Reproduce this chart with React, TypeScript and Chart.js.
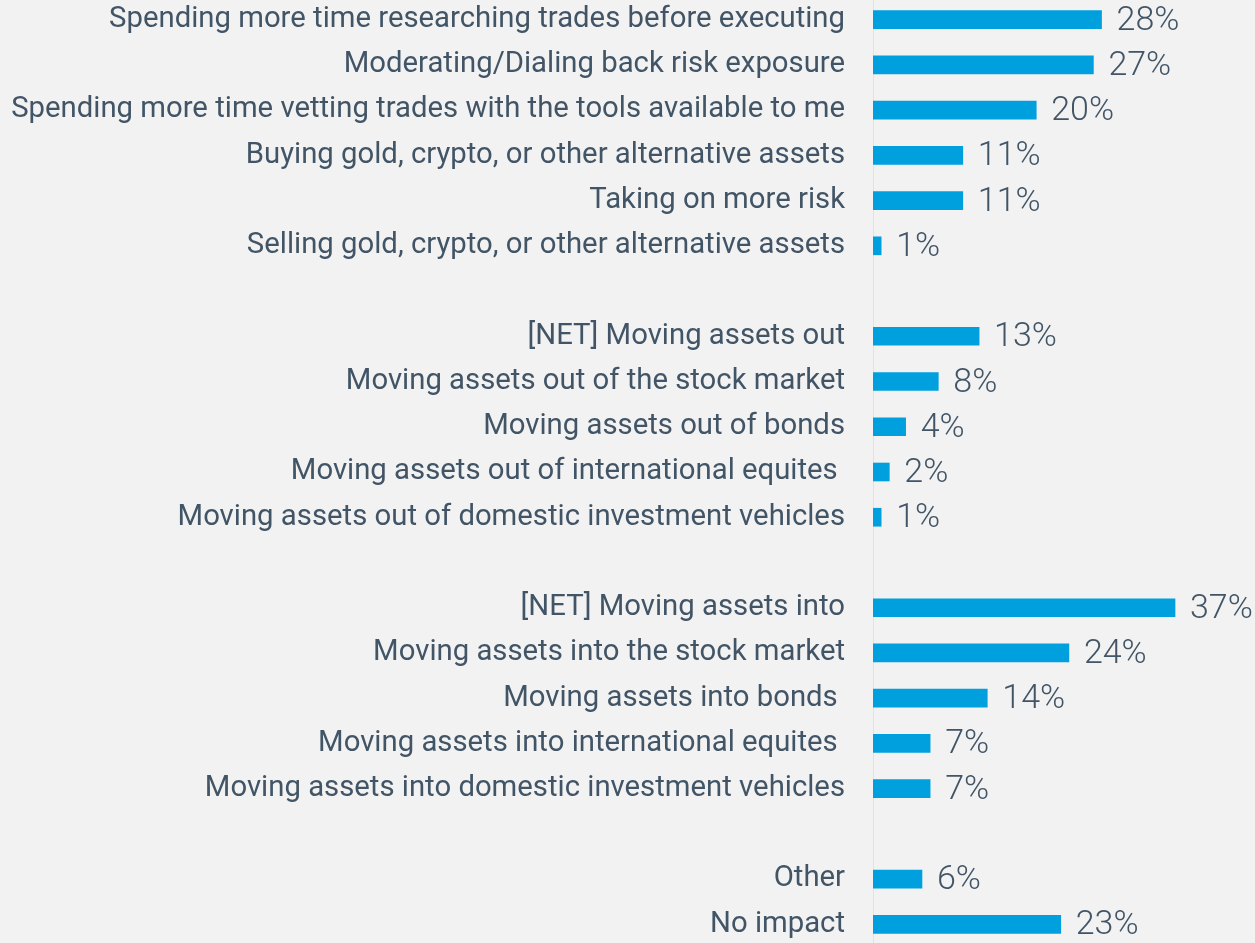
import React, { useEffect, useRef } from "react";
import { Chart, registerables } from "chart.js";

Chart.register(...registerables);

const categories: string[] = [
  "Spending more time researching trades before executing",
  "Moderating/Dialing back risk exposure",
  "Spending more time vetting trades with the tools available to me",
  "Buying gold, crypto, or other alternative assets",
  "Taking on more risk",
  "Selling gold, crypto, or other alternative assets",
  "",
  "[NET] Moving assets out",
  "Moving assets out of the stock market",
  "Moving assets out of bonds",
  "Moving assets out of international equites ",
  "Moving assets out of domestic investment vehicles",
  "",
  "[NET] Moving assets into",
  "Moving assets into the stock market",
  "Moving assets into bonds ",
  "Moving assets into international equites ",
  "Moving assets into domestic investment vehicles",
  "",
  "Other",
  "No impact",
];

const values: (number | null)[] = [
  28, 27, 20, 11, 11, 1, null, 13, 8, 4, 2, 1, null, 37, 24, 14, 7, 7, null, 6, 23,
];

const FONT = "Roboto, 'Noto Sans', sans-serif";
const TEXT = "#425566";
const BAR = "#00a0df";
const BG = "#f2f2f2";

const valueLabels = {
  id: "valueLabels",
  afterDatasetsDraw(chart: any) {
    const ctx = chart.ctx;
    const meta = chart.getDatasetMeta(0);
    ctx.save();
    ctx.font = `300 34px ${FONT}`;
    ctx.fillStyle = TEXT;
    ctx.textAlign = "left";
    ctx.textBaseline = "middle";
    meta.data.forEach((el: any, i: number) => {
      const v = values[i];
      if (v === null || v === undefined) return;
      ctx.fillText(`${v}%`, el.x + 15, el.y + 1.5);
    });
    ctx.restore();
  },
};

export default function App() {
  const ref = useRef<HTMLCanvasElement | null>(null);
  useEffect(() => {
    document.body.style.background = BG;
    const chart = new Chart(ref.current as HTMLCanvasElement, {
      type: "bar",
      data: {
        labels: categories,
        datasets: [
          {
            data: values,
            backgroundColor: BAR,
            barThickness: 18,
          },
        ],
      },
      options: {
        indexAxis: "y",
        animation: false,
        responsive: true,
        maintainAspectRatio: false,
        layout: { padding: 0 },
        plugins: {
          legend: { display: false },
          tooltip: { enabled: false },
        },
        scales: {
          x: {
            display: false,
            min: 0,
            max: 46.8,
          },
          y: {
            grid: { display: false, drawTicks: false },
            border: { display: true, color: "#dce3ea", width: 1 },
            ticks: {
              autoSkip: false,
              padding: 28,
              color: TEXT,
              font: { family: FONT, size: 29.3 },
            },
            afterFit: (scale: any) => {
              scale.width = 873;
              scale.paddingTop = 0;
              scale.paddingBottom = 0;
            },
          },
        },
      },
      plugins: [valueLabels],
    });
    return () => chart.destroy();
  }, []);
  return (
    <div
      style={{
        position: "fixed",
        left: 0,
        top: -2.6,
        width: 1255,
        height: 950,
        background: BG,
      }}
    >
      <canvas ref={ref} />
    </div>
  );
}
